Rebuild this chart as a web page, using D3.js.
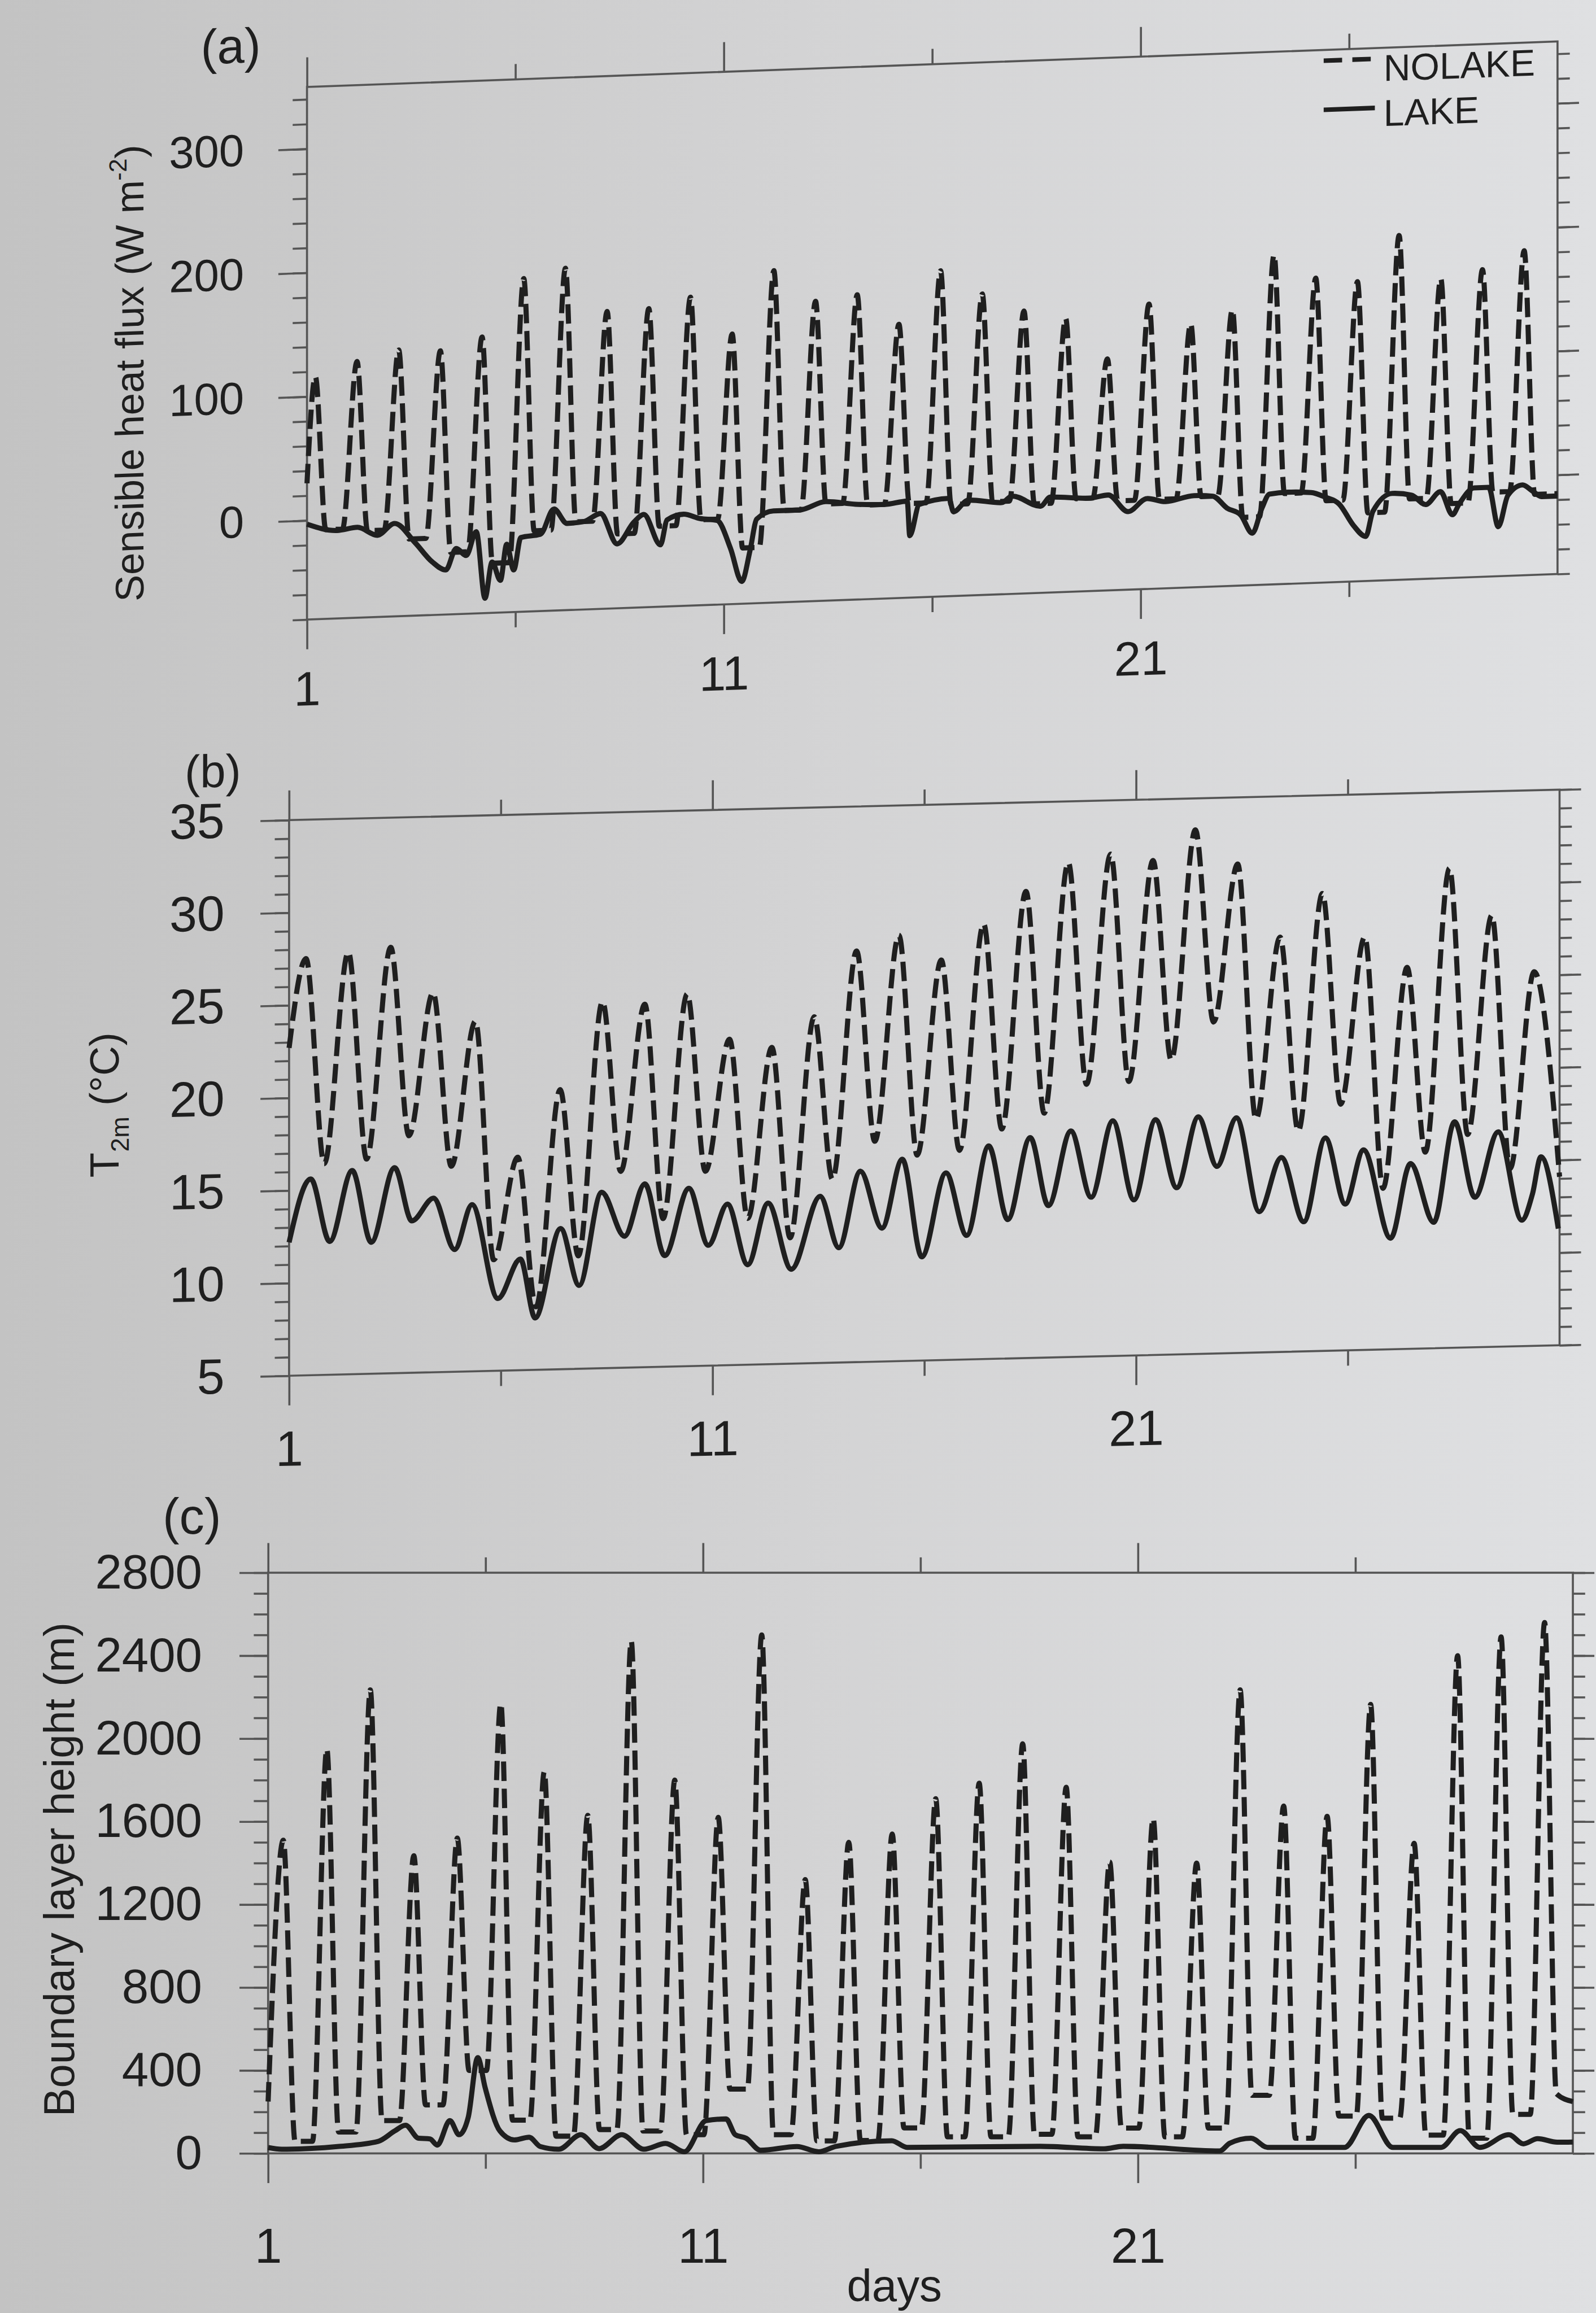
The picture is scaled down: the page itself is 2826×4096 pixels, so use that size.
<!DOCTYPE html>
<html lang="en">
<head>
    <meta charset="UTF-8">
    <title>Sensible heat flux, T2m and boundary layer height: NOLAKE vs LAKE</title>

    <script src="https://d3js.org/d3.v7.min.js"></script>

    <style>
        html, body {
            margin: 0;
            padding: 0;
            background: #d2d3d5;
        }

        svg {
            display: block;
        }
    </style>

    <script>

        // day of month, shared by the three panels
        const dayDomain = [1, 31];
        const dayMajor = [1, 11, 21];
        const dayMinor = [6, 16, 26];

        // time of day of the daily extremes
        const fluxRise = -0.15, fluxPeakAt = 0.2, fluxFall = 0.45;
        const t2mPeakAt = 0.4, t2mTroughAt = 0.83;
        const blhRise = 0.02, blhPeakAt = 0.35, blhFall = 0.62;

        // (a) sensible heat flux (W m-2)
        const fluxTicks = [0, 100, 200, 300];
        const fluxNolakeStart = 30;
        const fluxNolakePeak = [116, 127, 135, 133, 143, 189, 196, 160, 161, 169, 138, 188, 162, 166, 141,
            183, 163, 148, 141, 107, 150, 133, 143, 186, 166, 162, 198, 162, 168, 182];
        const fluxNolakeNight = [-8, -10, -18, -30, -40, -15, -9, -20, -15, -11, -35, -6, -2, -4, -4,
            -6, -5, -8, -5, -8, -8, -7, -25, -7, -14, -25, -15, -20, -12, -15];
        const fluxLake = [
            [1.0, -3], [1.72, -9], [2.21, -7], [2.69, -14], [3.10, -5], [3.59, -21], [4.0, -37], [4.33, -44],
            [4.58, -27], [4.82, -33], [5.06, -14], [5.27, -68], [5.44, -39], [5.64, -54], [5.79, -25], [5.96, -46],
            [6.13, -20], [6.6, -18], [6.92, 2], [7.24, -10], [7.64, -9], [8.04, -3], [8.44, -28], [8.84, -11],
            [9.08, -5], [9.48, -30], [9.64, -10], [10.03, -6], [10.43, -10], [10.84, -12], [11.16, -35], [11.43, -62],
            [11.63, -37], [11.79, -12], [12.19, -6], [12.82, -6], [13.44, 0], [14.16, -3], [14.86, -4], [15.40, -2],
            [15.46, -30], [15.69, -5], [16.40, -1], [16.51, -12], [16.86, -3], [17.67, -6], [17.91, -1], [18.60, -10],
            [18.83, -3], [19.76, -5], [20.22, -3], [20.70, -17], [21.15, -7], [21.60, -10], [22.28, -6], [22.73, -7],
            [23.07, -17], [23.40, -23], [23.68, -38], [23.91, -18], [24.09, -7], [24.53, -6], [25.09, -7], [25.42, -11],
            [25.76, -17], [26.11, -35], [26.40, -44], [26.57, -24], [27.03, -10], [27.50, -12], [27.84, -20], [28.19, -10],
            [28.48, -29], [28.65, -20], [29.0, -8], [29.35, -8], [29.58, -40], [29.81, -15], [30.16, -7], [30.39, -12],
            [30.62, -17], [31.0, -17]
        ];

        // (b) 2 m temperature (deg C)
        const t2mTicks = [5, 10, 15, 20, 25, 30, 35];
        const t2mNolakeStart = 22.7;
        const t2mNolakePeak = [27.5, 27.8, 28.0, 25.5, 23.9, 16.5, 20.1, 24.8, 24.6, 25.1, 22.6, 22.1, 23.7, 27.2, 28.0,
            26.6, 28.5, 30.2, 31.7, 32.1, 31.7, 33.3, 31.4, 27.4, 29.7, 27.3, 25.6, 30.9, 28.3, 25.2];
        const t2mNolakeTrough = [16.4, 16.6, 17.8, 16.1, 11.0, 8.4, 11.1, 15.6, 13.0, 15.5, 12.9, 11.8, 14.9, 16.9, 16.1,
            16.3, 17.4, 18.2, 19.7, 19.8, 20.9, 22.9, 17.6, 16.9, 18.3, 13.7, 15.6, 16.5, 14.6];
        const t2mNolakeEnd = 14.1;
        const t2mLake = [
            [1.0, 12.2], [1.51, 15.6], [1.96, 12.2], [2.49, 16.0], [2.94, 12.1], [3.49, 16.1], [3.90, 13.2], [4.41, 14.4],
            [4.91, 11.6], [5.32, 14.0], [5.93, 8.9], [6.46, 11.0], [6.81, 7.8], [7.41, 12.6], [7.85, 9.5], [8.38, 14.5],
            [8.92, 12.1], [9.40, 14.9], [9.87, 11.0], [10.44, 14.6], [10.90, 11.5], [11.35, 13.7], [11.83, 10.4], [12.31, 13.7],
            [12.86, 10.1], [13.54, 14.0], [13.98, 11.2], [14.49, 15.3], [15.0, 12.2], [15.48, 15.9], [15.94, 10.6], [16.51, 15.1],
            [17.0, 11.7], [17.52, 16.5], [17.97, 12.5], [18.50, 16.9], [18.93, 13.2], [19.46, 17.2], [19.94, 13.6], [20.45, 17.7],
            [20.95, 13.4], [21.46, 17.7], [21.96, 14.0], [22.47, 17.8], [22.91, 15.1], [23.37, 17.7], [23.91, 12.6], [24.43, 15.5],
            [24.96, 12.0], [25.47, 16.5], [25.94, 12.9], [26.37, 15.8], [27.01, 11.0], [27.48, 15.0], [28.03, 11.8], [28.52, 17.2],
            [29.0, 13.1], [29.55, 16.6], [30.11, 11.8], [30.36, 13.2], [30.56, 15.2], [30.97, 11.3]
        ];

        // (c) boundary layer height (m)
        const blhTicks = [0, 400, 800, 1200, 1600, 2000, 2400, 2800];
        const blhNolakeStart = 250;
        const blhNolakePeak = [1510, 1950, 2235, 1435, 1520, 2170, 1840, 1630, 2470, 1800, 1620, 2500, 1320, 1500, 1540,
            1710, 1785, 1975, 1765, 1405, 1615, 1400, 2235, 1675, 1625, 2165, 1495, 2400, 2490, 2560];
        const blhNolakeNight = [58, 103, 158, 234, 400, 160, 83, 115, 108, 90, 310, 90, 60, 62, 123,
            80, 80, 92, 80, 122, 80, 122, 280, 73, 180, 170, 88, 73, 188, 288];
        const blhNolakeEnd = 250;
        const blhLake = [
            [1.0, 28], [1.31, 20], [2.59, 33], [3.53, 58], [3.91, 108], [4.16, 136], [4.46, 73], [4.72, 70],
            [4.89, 40], [5.18, 158], [5.39, 90], [5.60, 173], [5.82, 462], [5.99, 317], [6.33, 108], [6.66, 65],
            [7.0, 78], [7.26, 33], [7.68, 20], [8.19, 90], [8.61, 23], [9.13, 90], [9.64, 20], [10.14, 48],
            [10.57, 8], [11.07, 158], [11.53, 166], [11.74, 90], [11.99, 73], [12.32, 15], [13.16, 33], [13.66, 8],
            [14.06, 34], [15.34, 61], [15.69, 29], [18.75, 34], [20.22, 22], [20.66, 34], [22.88, 12], [23.11, 49],
            [23.60, 73], [23.98, 29], [25.75, 29], [26.31, 183], [26.86, 29], [27.97, 29], [28.41, 110], [28.86, 29],
            [29.53, 90], [29.86, 46], [30.19, 71], [30.64, 54], [31.0, 55]
        ];

        document.addEventListener("DOMContentLoaded", () => makeGraph());

        // daily peaks / nights -> list of [day, value] points
        function fluxSeries() {
            const pts = [[1, fluxNolakeStart]];
            fluxNolakePeak.forEach((p, i) => {
                const d = i + 1;
                if (i > 0) pts.push([d + fluxRise, fluxNolakeNight[i - 1]]);
                pts.push([d + fluxPeakAt, p]);
                pts.push([d + fluxFall, fluxNolakeNight[i]]);
            });
            pts.push([31, fluxNolakeNight[fluxNolakeNight.length - 1]]);
            return pts;
        }

        function t2mSeries() {
            const pts = [[1, t2mNolakeStart]];
            t2mNolakePeak.forEach((p, i) => {
                pts.push([i + 1 + t2mPeakAt, p]);
                if (i < t2mNolakeTrough.length) pts.push([i + 1 + t2mTroughAt, t2mNolakeTrough[i]]);
            });
            pts.push([31, t2mNolakeEnd]);
            return pts;
        }

        function blhSeries() {
            const pts = [[1, blhNolakeStart]];
            blhNolakePeak.forEach((p, i) => {
                const d = i + 1;
                if (i > 0) pts.push([d + blhRise, blhNolakeNight[i - 1]]);
                pts.push([d + blhPeakAt, p]);
                pts.push([d + blhFall, blhNolakeNight[i]]);
            });
            pts.push([31, blhNolakeEnd]);
            return pts;
        }

        function makeGraph() {
            const width = 2826;
            const height = 4096;
            const scale = 0.906;
            const ink = "#1f1f1f";
            const frameColor = "#555555";
            const font = '"Liberation Sans", Arial, Helvetica, sans-serif';

            let svg = d3.select("svg").attr("width", width).attr("height", height);

            const grad = svg.append("defs").append("linearGradient")
                .attr("id", "paper").attr("x1", 0).attr("x2", 1).attr("y1", 0).attr("y2", 0);
            grad.append("stop").attr("offset", "0%").attr("stop-color", "#c3c3c3");
            grad.append("stop").attr("offset", "50%").attr("stop-color", "#d3d3d4");
            grad.append("stop").attr("offset", "100%").attr("stop-color", "#dfe0e2");
            svg.append("rect").attr("width", width).attr("height", height).attr("fill", "url(#paper)");

            const root = svg.append("g").attr("transform", `scale(${scale})`).attr("font-family", font);

            // the printed page is photographed at a slight tilt: skew is a small shear per panel
            const panels = [
                {
                    name: "(a)", nameAt: [451, 118], nameFont: 96,
                    left: 600, right: 3044, top: 170, bottom: 1211, skew: -0.0364,
                    domain: [-80, 350], minor: 20, major: fluxTicks,
                    nolake: fluxSeries(), lake: fluxLake,
                    yFont: 88, yPad: 67, xFont: 94, xPad: 43,
                    title: [{t: "Sensible heat flux (W m"}, {t: "-2", sup: true}, {t: ")"}],
                    titleAt: [280, 717], titleFont: 78
                },
                {
                    name: "(b)", nameAt: [416, 1535], nameFont: 90,
                    left: 565, right: 3048, top: 1603, bottom: 2689, skew: -0.024,
                    domain: [5, 35], minor: 1, major: t2mTicks,
                    nolake: t2mSeries(), lake: t2mLake,
                    yFont: 97, yPad: 70, xFont: 97, xPad: 49,
                    title: [{t: "T"}, {t: "2m", sub: true}, {t: " (°C)"}],
                    titleAt: [232, 2151], titleFont: 80
                },
                {
                    name: "(c)", nameAt: [375, 2998], nameFont: 98,
                    left: 524, right: 3074, top: 3074, bottom: 4209, skew: 0,
                    domain: [0, 2800], minor: 100, major: blhTicks,
                    nolake: blhSeries(), lake: blhLake,
                    yFont: 94, yPad: 73, xFont: 96, xPad: 88,
                    title: [{t: "Boundary layer height (m)"}],
                    titleAt: [145, 3654], titleFont: 84
                }
            ];

            const styleAxis = function(sel, fontSize) {
                sel.select(".domain").remove();
                sel.selectAll(".tick line").attr("stroke", frameColor).attr("stroke-width", 4);
                sel.selectAll(".tick text").attr("fill", ink).attr("font-size", fontSize).attr("font-family", font);
            };

            panels.forEach(p => {
                const g = root.append("g")
                    .attr("transform", `matrix(1,${p.skew},0,1,0,${-p.skew * p.left})`);

                const xScale = d3.scaleLinear().domain(dayDomain).range([p.left, p.right]);
                const yScale = d3.scaleLinear().domain(p.domain).range([p.bottom, p.top]);
                const minorY = d3.range(p.domain[0], p.domain[1] + p.minor / 2, p.minor);

                // y axes, left with labels, right ticks only
                g.append("g").attr("transform", `translate(${p.left},0)`)
                    .call(d3.axisLeft(yScale).tickValues(minorY).tickSize(28).tickFormat(""))
                    .call(styleAxis, p.yFont);
                g.append("g").attr("transform", `translate(${p.left},0)`)
                    .call(d3.axisLeft(yScale).tickValues(p.major).tickSize(56).tickPadding(p.yPad).tickFormat(d3.format("d")))
                    .call(styleAxis, p.yFont);
                g.append("g").attr("transform", `translate(${p.right},0)`)
                    .call(d3.axisRight(yScale).tickValues(minorY).tickSize(24).tickFormat(""))
                    .call(styleAxis, p.yFont);
                g.append("g").attr("transform", `translate(${p.right},0)`)
                    .call(d3.axisRight(yScale).tickValues(p.major).tickSize(42).tickFormat(""))
                    .call(styleAxis, p.yFont);

                // day axes, bottom with labels, top ticks only
                g.append("g").attr("transform", `translate(0,${p.bottom})`)
                    .call(d3.axisBottom(xScale).tickValues(dayMinor).tickSize(30).tickFormat(""))
                    .call(styleAxis, p.xFont);
                g.append("g").attr("transform", `translate(0,${p.bottom})`)
                    .call(d3.axisBottom(xScale).tickValues(dayMajor).tickSize(58).tickPadding(p.xPad).tickFormat(d3.format("d")))
                    .call(styleAxis, p.xFont);
                g.append("g").attr("transform", `translate(0,${p.top})`)
                    .call(d3.axisTop(xScale).tickValues(dayMinor).tickSize(30).tickFormat(""))
                    .call(styleAxis, p.xFont);
                g.append("g").attr("transform", `translate(0,${p.top})`)
                    .call(d3.axisTop(xScale).tickValues(dayMajor).tickSize(58).tickFormat(""))
                    .call(styleAxis, p.xFont);

                g.append("rect")
                    .attr("x", p.left).attr("y", p.top)
                    .attr("width", p.right - p.left).attr("height", p.bottom - p.top)
                    .attr("fill", "none").attr("stroke", frameColor).attr("stroke-width", 4);

                const line = d3.line()
                    .x(d => xScale(d[0]))
                    .y(d => yScale(d[1]))
                    .curve(d3.curveMonotoneX);

                g.append("path").datum(p.nolake)
                    .attr("d", line)
                    .attr("fill", "none").attr("stroke", ink).attr("stroke-width", 10)
                    .attr("stroke-dasharray", "38,15").attr("stroke-linejoin", "round");

                g.append("path").datum(p.lake)
                    .attr("d", line)
                    .attr("fill", "none").attr("stroke", ink).attr("stroke-width", 10)
                    .attr("stroke-linejoin", "round");

                // panel letter
                g.append("text")
                    .attr("x", p.nameAt[0]).attr("y", p.nameAt[1])
                    .attr("text-anchor", "middle").attr("font-size", p.nameFont).attr("fill", ink)
                    .text(p.name);

                // rotated y title with sub/superscripts
                const title = g.append("text")
                    .attr("transform", `translate(${p.titleAt[0]},${p.titleAt[1]}) rotate(-90)`)
                    .attr("text-anchor", "middle").attr("font-size", p.titleFont).attr("fill", ink);
                let shift = 0;
                p.title.forEach(part => {
                    const target = part.sup ? -0.42 * p.titleFont : part.sub ? 0.24 * p.titleFont : 0;
                    title.append("tspan")
                        .attr("dy", target - shift)
                        .attr("font-size", part.sup || part.sub ? 0.62 * p.titleFont : p.titleFont)
                        .text(part.t);
                    shift = target;
                });
            });

            // legend in (a)
            const lg = root.append("g").attr("transform", `matrix(1,${panels[0].skew},0,1,0,${-panels[0].skew * panels[0].left})`);
            lg.append("line").attr("x1", 2587).attr("x2", 2679).attr("y1", 191).attr("y2", 191)
                .attr("stroke", ink).attr("stroke-width", 9).attr("stroke-dasharray", "36,20");
            lg.append("text").attr("x", 2704).attr("y", 235).attr("font-size", 73).attr("fill", ink).text("NOLAKE");
            lg.append("line").attr("x1", 2587).attr("x2", 2687).attr("y1", 287).attr("y2", 287)
                .attr("stroke", ink).attr("stroke-width", 9);
            lg.append("text").attr("x", 2704).attr("y", 323).attr("font-size", 73).attr("fill", ink).text("LAKE");

            root.append("text")
                .attr("x", 1748).attr("y", 4498)
                .attr("text-anchor", "middle").attr("font-size", 88).attr("fill", ink)
                .text("days");
        }

    </script>

</head>
<body>

    <div id="graph">
        <svg></svg>
    </div>

</body>
</html>
